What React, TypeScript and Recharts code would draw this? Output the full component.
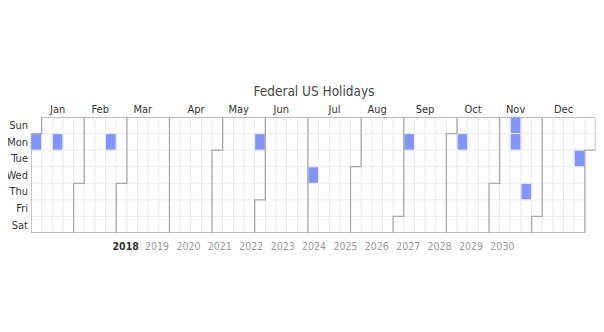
import React from 'react';
import { ComposedChart, XAxis, YAxis, Scatter, ReferenceArea, ReferenceLine } from 'recharts';

const YEAR = 2018;
const monthLabels = ['Jan', 'Feb', 'Mar', 'Apr', 'May', 'Jun', 'Jul', 'Aug', 'Sep', 'Oct', 'Nov', 'Dec'];
const dayLabels = ['Sun', 'Mon', 'Tue', 'Wed', 'Thu', 'Fri', 'Sat'];
const holidayDates = [
  '2018-01-01', '2018-01-15', '2018-02-19', '2018-05-28', '2018-07-04', '2018-09-03',
  '2018-10-08', '2018-11-11', '2018-11-12', '2018-11-22', '2018-12-25',
];
const holidayValues = [1, 1, 1, 1, 1, 1, 1, 1, 1, 1, 1];
const yearLabels = [2018, 2019, 2020, 2021, 2022, 2023, 2024, 2025, 2026, 2027, 2028, 2029, 2030];
const selectedYear = 2018;

const FONT = "'DejaVu Sans Condensed', 'Liberation Sans Narrow', 'Liberation Sans', sans-serif";
const DAY_MS = 86400000;
const yearStart = Date.UTC(YEAR, 0, 1);
const firstDow = new Date(yearStart).getUTCDay();
const daysInYear = Math.round((Date.UTC(YEAR + 1, 0, 1) - yearStart) / DAY_MS);

const dayIndexOf = (s: string) => Math.round((Date.parse(s + 'T00:00:00Z') - yearStart) / DAY_MS);
const cellOf = (i: number) => ({ week: Math.floor((i + firstDow) / 7), dow: (i + firstDow) % 7 });

const lastCell = cellOf(daysInYear - 1);
const totalWeeks = lastCell.week + 1;

const monthStart = monthLabels.map((_, m) => Math.round((Date.UTC(YEAR, m, 1) - yearStart) / DAY_MS));
const monthEnd = monthLabels.map((_, m) => Math.round((Date.UTC(YEAR, m + 1, 1) - yearStart) / DAY_MS) - 1);
const monthCenters = monthLabels.map((_, m) => (cellOf(monthStart[m]).week + cellOf(monthEnd[m]).week + 1) / 2);

const holidayCells = holidayDates.map((d, i) => ({ ...cellOf(dayIndexOf(d)), value: holidayValues[i] }));

const boundaryPath = (i: number) => {
  const c = cellOf(i);
  if (c.dow === 0) return [{ x: c.week, y: 0 }, { x: c.week, y: 7 }];
  return [
    { x: c.week + 1, y: 0 },
    { x: c.week + 1, y: c.dow },
    { x: c.week, y: c.dow },
    { x: c.week, y: 7 },
  ];
};

const firstCell = cellOf(0);
const outline = [
  ...(firstCell.dow === 0
    ? [{ x: 0, y: 0 }]
    : [{ x: 1, y: 0 }, { x: 1, y: firstCell.dow }, { x: 0, y: firstCell.dow }]),
  { x: 0, y: 7 },
  ...(lastCell.dow === 6
    ? [{ x: totalWeeks, y: 7 }]
    : [{ x: lastCell.week, y: 7 }, { x: lastCell.week, y: lastCell.dow + 1 }, { x: totalWeeks, y: lastCell.dow + 1 }]),
  { x: totalWeeks, y: 0 },
  { x: firstCell.dow === 0 ? 0 : 1, y: 0 },
];

const boundaries = [outline, ...monthStart.slice(1).map(boundaryPath)];

const verticalGrid = Array.from({ length: totalWeeks - 1 }, (_, i) => i + 1);
const horizontalGrid = [1, 2, 3, 4, 5, 6];
const dayTicks = dayLabels.map((_, i) => i + 0.5);

const GRID = '#ebebeb';
const SPLIT = '#a8a8a8';
const CELL = '#8095fd';

export default function App() {
  return (
    <div style={{ position: 'relative', width: 604, height: 332, margin: -8, fontFamily: FONT }}>
      <div
        style={{
          position: 'absolute', left: 0, width: 628, top: 81, textAlign: 'center',
          fontSize: 13.5, color: '#464646', lineHeight: '20px',
        }}
      >
        Federal US Holidays
      </div>
      <ComposedChart width={604} height={332} margin={{ top: 97, right: 8.5, bottom: 99, left: 0 }}>
        <XAxis
          xAxisId={0}
          dataKey="x"
          type="number"
          orientation="top"
          domain={[0, totalWeeks]}
          ticks={monthCenters}
          interval={0}
          tickFormatter={(_v: number, i: number) => monthLabels[i]}
          axisLine={false}
          tickLine={false}
          tickSize={0}
          tickMargin={4}
          height={20}
          allowDataOverflow
          tick={{ fontSize: 11, fill: '#333', fontFamily: FONT }}
        />
        <YAxis
          yAxisId={0}
          dataKey="y"
          type="number"
          reversed
          domain={[0, 7]}
          ticks={dayTicks}
          interval={0}
          tickFormatter={(_v: number, i: number) => dayLabels[i]}
          axisLine={false}
          tickLine={false}
          tickSize={0}
          tickMargin={3}
          width={31}
          allowDataOverflow
          tick={{ fontSize: 11, fill: '#333', fontFamily: FONT }}
        />
        {verticalGrid.map((w) => (
          <ReferenceLine
            key={'v' + w}
            segment={[{ x: w, y: 0 }, { x: w, y: 7 }]}
            stroke={GRID}
            strokeWidth={1}
            ifOverflow="visible"
          />
        ))}
        {horizontalGrid.map((d) => (
          <ReferenceLine
            key={'h' + d}
            segment={[{ x: 0, y: d }, { x: d <= lastCell.dow + 1 ? totalWeeks : lastCell.week, y: d }]}
            stroke={GRID}
            strokeWidth={1}
            ifOverflow="visible"
          />
        ))}
        {holidayCells.map((c, i) => (
          <ReferenceArea
            key={'c' + i}
            x1={c.week}
            x2={c.week + 1}
            y1={c.dow}
            y2={c.dow + 1}
            fill={CELL}
            fillOpacity={c.value}
            stroke="#b9c3fb"
            strokeWidth={0.8}
            ifOverflow="visible"
          />
        ))}
        {boundaries.map((pts, i) => (
          <Scatter
            key={'b' + i}
            data={pts}
            line={{ stroke: SPLIT, strokeWidth: 1.3 }}
            lineType="joint"
            shape={() => <g />}
            isAnimationActive={false}
          />
        ))}
      </ComposedChart>
      <div
        style={{
          position: 'absolute', top: 239, left: 110, display: 'flex', fontSize: 10.5, lineHeight: '14px',
        }}
      >
        {yearLabels.map((y) => (
          <span
            key={y}
            style={{
              width: 31.4, textAlign: 'center', display: 'inline-block',
              color: y === selectedYear ? '#333' : '#999',
              fontWeight: y === selectedYear ? 'bold' : 'normal',
            }}
          >
            {y}
          </span>
        ))}
      </div>
    </div>
  );
}
